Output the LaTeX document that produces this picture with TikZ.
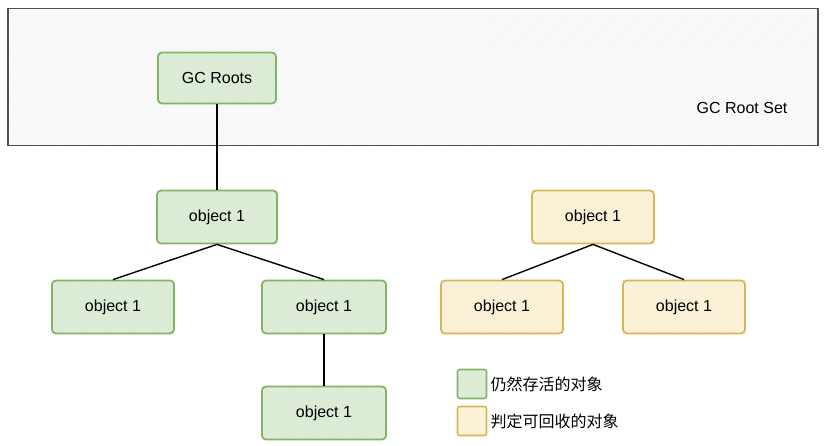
\documentclass[tikz,border=0pt]{standalone}
\usepackage{fontspec}
\setmainfont{Liberation Sans}
\newfontfamily\cjk{Noto Sans CJK SC}
\usepackage{tikz}
\usetikzlibrary{positioning,patterns}
\definecolor{gcgreen}{RGB}{130,179,102}
\definecolor{gclightgreen}{RGB}{226,240,222}
\definecolor{gcyellow}{RGB}{214,182,86}
\definecolor{gclightyellow}{RGB}{255,246,220}
\definecolor{gcgray}{RGB}{80,80,80}
\tikzstyle{link} = [line width=1.4pt, color=black]
\tikzstyle{alivebox} = [rectangle, rounded corners=4pt, minimum width=120pt, minimum height=53pt, text centered, draw=gcgreen, line width=1.8pt, font=\fontsize{16}{19}\selectfont,
  preaction={fill=gclightgreen}, pattern=north east lines, pattern color=gcgreen!35]
\tikzstyle{deadbox} = [rectangle, rounded corners=4pt, minimum width=122pt, minimum height=53pt, text centered, draw=gcyellow, line width=1.8pt, font=\fontsize{16}{19}\selectfont,
  preaction={fill=gclightyellow}, pattern=north east lines, pattern color=gcyellow!30]
\tikzstyle{legendbox} = [rectangle, rounded corners=2pt, minimum size=29pt, line width=1.6pt]
\tikzstyle{legendtext} = [right=3pt, font=\cjk\fontsize{16}{19}\selectfont, inner sep=0pt]

\begin{document}
\begin{tikzpicture}[x=1pt, y=-1pt]
\useasboundingbox (0,0) rectangle (826,446);

% Root set
\node[rectangle, draw=gcgray, line width=1.6pt, minimum width=810pt, minimum height=137pt,
  preaction={fill=white}, pattern=north east lines, pattern color=gray!15] (rootset) at (413,77) {};
\node[font=\fontsize{16}{19}\selectfont] (setlabel) at (742,108) {GC Root Set};
\node[alivebox, minimum width=118pt, minimum height=51pt] (roots) at (217,78) {GC Roots};

% Live objects
\node[alivebox] (obj) at (217,217) {object 1};
\node[alivebox, minimum width=122pt] (objl) at (113,307) {object 1};
\node[alivebox, minimum width=124pt] (objr) at (324,307) {object 1};
\node[alivebox, minimum width=124pt] (objb) at (324,413) {object 1};

% Collectable objects
\node[deadbox] (dead) at (593,217) {object 1};
\node[deadbox] (deadl) at (502,307) {object 1};
\node[deadbox] (deadr) at (684,307) {object 1};

% Links
\draw[link] (roots.south) -- (obj.north);
\draw[link] (obj.south) -- (objl.north);
\draw[link] (obj.south) -- (objr.north);
\draw[link] (objr.south) -- (objb.north);
\draw[link] (dead.south) -- (deadl.north);
\draw[link] (dead.south) -- (deadr.north);

% Legend
\node[legendbox, draw=gcgreen, preaction={fill=gclightgreen}, pattern=north east lines, pattern color=gcgreen!35] (keyalive) at (472,384) {};
\node[legendtext] (keyalivetext) at (keyalive.east) {仍然存活的对象};
\node[legendbox, draw=gcyellow, preaction={fill=gclightyellow}, pattern=north east lines, pattern color=gcyellow!30] (keydead) at (472,421) {};
\node[legendtext] (keydeadtext) at (keydead.east) {判定可回收的对象};
\end{tikzpicture}
\end{document}
